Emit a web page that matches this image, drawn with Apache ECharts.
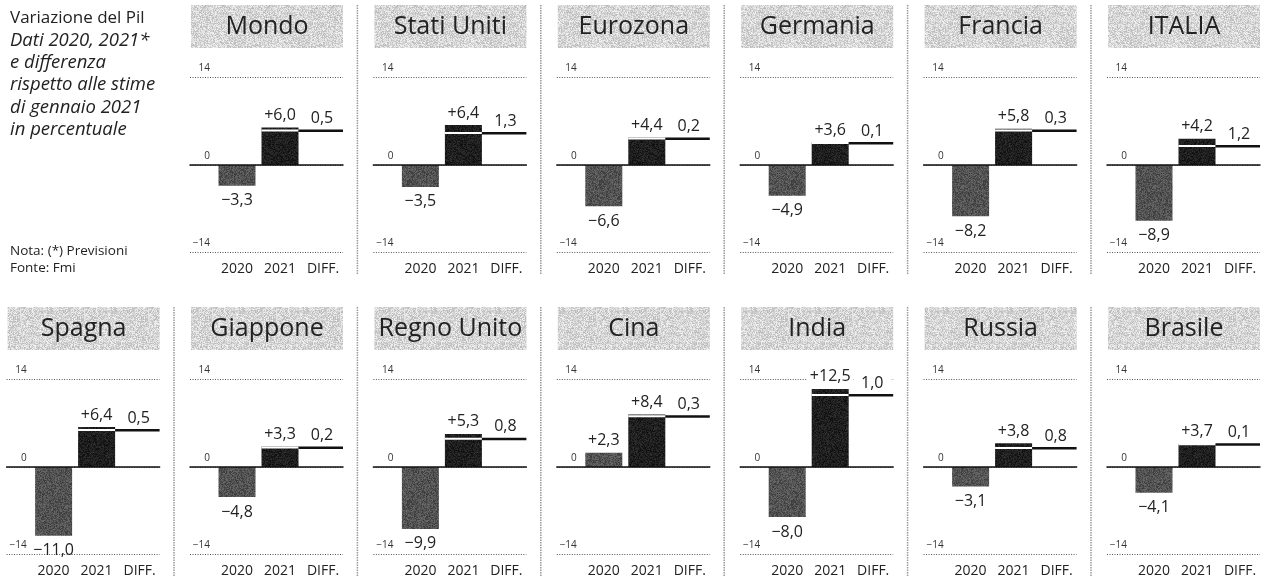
<!DOCTYPE html>
<html>
<head>
<meta charset="utf-8">
<script src="https://cdn.jsdelivr.net/npm/echarts@6/dist/echarts.min.js"></script>
<style>
  html, body { margin: 0; padding: 0; background: #ffffff; }
  #chart { width: 1262px; height: 580px; }
</style>
</head>
<body>
<div id="chart"></div>
<script>
// Variazione del Pil: 2020, previsioni 2021 e revisione rispetto a gennaio 2021 (Fmi)
const paesi = ['Mondo', 'Stati Uniti', 'Eurozona', 'Germania', 'Francia', 'ITALIA',
               'Spagna', 'Giappone', 'Regno Unito', 'Cina', 'India', 'Russia', 'Brasile'];
const pil2020 = [-3.3, -3.5, -6.6, -4.9, -8.2, -8.9, -11.0, -4.8, -9.9, 2.3, -8.0, -3.1, -4.1];
const pil2021 = [6.0, 6.4, 4.4, 3.6, 5.8, 4.2, 6.4, 3.3, 5.3, 8.4, 12.5, 3.8, 3.7];
const diffGennaio = [0.5, 1.3, 0.2, 0.1, 0.3, 1.2, 0.5, 0.2, 0.8, 0.3, 1.0, 0.8, 0.1];
const colonne = ['2020', '2021', 'DIFF.'];
const scalaY = { min: -14, max: 14, passo: 14 };

const titoloRighe = ['Variazione del Pil', 'Dati 2020, 2021*', 'e differenza',
                     'rispetto alle stime', 'di gennaio 2021', 'in percentuale'];
const noteRighe = ['Nota: (*) Previsioni', 'Fonte: Fmi'];

// ---- layout ----
const FONT = '"Open Sans", "Noto Sans", sans-serif';
const PITCH = 183.4;
const PANEL_W = 153;
const PLOT_H = 175;
const BAR_W = 37;
const righe = [
  { primo: 0, quanti: 6, x: 190, titoloTop: 5, top: 77.5, sepTop: 5, sepBottom: 274 },
  { primo: 6, quanti: 7, x: 6.6, titoloTop: 307, top: 379.5, sepTop: 307, sepBottom: 577 }
];

function formatta(v, segno) {
  const s = Math.abs(v).toFixed(1).replace('.', ',');
  if (!segno) return s;
  return (v < 0 ? '\u2212' : '+') + s;
}

function formattaTick(v) {
  return v < 0 ? '\u2212' + Math.abs(v) : String(v);
}

// speckled fills (newsprint-like grain)
function grana(base, spread, seed) {
  const c = document.createElement('canvas');
  c.width = 64; c.height = 64;
  const ctx = c.getContext('2d');
  const img = ctx.createImageData(64, 64);
  let h = seed;
  for (let i = 0; i < 64 * 64; i++) {
    h = (h * 1103515245 + 12345) & 0x7fffffff;
    const n = ((h >> 8) % 1000) / 1000;
    const g = Math.max(0, Math.min(255, base + (n - 0.5) * spread));
    img.data[i * 4] = g; img.data[i * 4 + 1] = g; img.data[i * 4 + 2] = g; img.data[i * 4 + 3] = 255;
  }
  ctx.putImageData(img, 0, 0);
  return c;
}
const tramaTitolo = grana(214, 60, 7);
const trama2020 = grana(82, 50, 11);
const trama2021 = grana(30, 36, 23);

const etichetta = { fontSize: 16, color: '#222', fontFamily: FONT };

const grid = [], xAxis = [], yAxis = [], series = [], graphic = [];

righe.forEach(function (riga) {
  for (let c = 0; c < riga.quanti; c++) {
    const k = riga.primo + c;
    const x0 = riga.x + c * PITCH;
    const gA = grid.length, gB = gA + 1;

    // reference lines grid (dotted ±14, solid zero, tick labels)
    grid.push({ left: x0, top: riga.top, width: PANEL_W, height: PLOT_H });
    // bars grid
    grid.push({ left: x0 + 25.5, top: riga.top, width: 129, height: PLOT_H });

    xAxis.push({
      gridIndex: gA, type: 'category', data: colonne,
      axisLine: { show: true, onZero: true, lineStyle: { color: '#111', width: 1.5 } },
      axisTick: { show: false }, axisLabel: { show: false }, z: 5
    });
    yAxis.push({
      gridIndex: gA, type: 'value', min: scalaY.min, max: scalaY.max, interval: scalaY.passo,
      axisLine: { show: false }, axisTick: { show: false },
      splitLine: { show: true, lineStyle: { color: '#555', width: 1, type: [1, 1.5] } },
      axisLabel: {
        margin: -20, align: 'right', verticalAlign: 'bottom', padding: [0, 0, 4, 0],
        fontSize: 10, color: '#333', fontFamily: FONT, formatter: formattaTick
      }
    });
    xAxis.push({
      gridIndex: gB, type: 'category', data: colonne,
      axisLine: { show: false, onZero: false }, axisTick: { show: false },
      axisLabel: { margin: 10, fontSize: 14, color: '#222', fontFamily: FONT }
    });
    yAxis.push({ gridIndex: gB, type: 'value', min: scalaY.min, max: scalaY.max, show: false });

    const v0 = pil2020[k], v1 = pil2021[k];
    const labelDi = function (v) {
      return v < 0
        ? { show: true, position: 'bottom', distance: 7 }
        : { show: true, position: 'top', distance: 4, backgroundColor: '#fff', padding: [1, 3, 0, 3] };
    };
    series.push({
      type: 'bar', xAxisIndex: gB, yAxisIndex: gB, barWidth: BAR_W, barGap: '-100%',
      itemStyle: { color: { image: trama2020, repeat: 'repeat' } },
      data: [{ value: v0, label: labelDi(v0) }, '-', '-'],
      label: Object.assign({ formatter: function (p) { return formatta(p.value, true); } }, etichetta),
      silent: true, animation: false
    });
    series.push({
      type: 'bar', xAxisIndex: gB, yAxisIndex: gB, barWidth: BAR_W, barGap: '-100%',
      itemStyle: { color: { image: trama2021, repeat: 'repeat' } },
      data: ['-', { value: v1, label: labelDi(v1) }, '-'],
      label: Object.assign({ formatter: function (p) { return formatta(p.value, true); } }, etichetta),
      silent: true, animation: false
    });
    // January estimate marker: white stripe in the 2021 bar, line across the DIFF column
    series.push({
      type: 'custom', xAxisIndex: gB, yAxisIndex: gB, silent: true, animation: false, z: 4,
      data: [[1, v1, diffGennaio[k]]],
      renderItem: function (params, api) {
        const cat = api.value(0), val = api.value(1), d = api.value(2);
        const stima = val - d;
        const pBar = api.coord([cat, stima]);
        const pDiff = api.coord([cat + 1, stima]);
        const banda = api.size([1, 0])[0];
        const y = pBar[1];
        return {
          type: 'group',
          children: [
            { type: 'rect', shape: { x: pBar[0] - BAR_W / 2, y: y - 1.2, width: BAR_W, height: 2 }, style: { fill: '#ffffff' } },
            { type: 'line', shape: { x1: pBar[0] + BAR_W / 2, y1: y, x2: pDiff[0] + banda / 2 - 1.5, y2: y }, style: { stroke: '#111', lineWidth: 2.5 } },
            {
              type: 'text',
              style: {
                text: formatta(d, false), x: pDiff[0], y: y - 4,
                align: 'center', verticalAlign: 'bottom', textAlign: 'center', textVerticalAlign: 'bottom',
                fontSize: 16, fontFamily: FONT, fill: '#222',
                backgroundColor: '#fff', padding: [1, 8, 0, 6]
              }
            }
          ]
        };
      }
    });

    // title box
    graphic.push({
      type: 'rect', silent: true,
      shape: { x: x0 + 1, y: riga.titoloTop, width: PANEL_W - 1, height: 43 },
      style: { fill: { image: tramaTitolo, repeat: 'repeat' } },
      textContent: { style: { text: paesi[k], fontSize: 25, fontFamily: FONT, fill: '#222' } },
      textConfig: { position: 'inside' }
    });
    // dotted separator on the left of every panel except the first one of each row
    if (c > 0) {
      graphic.push({
        type: 'line', silent: true,
        shape: { x1: x0 - 16, y1: riga.sepTop, x2: x0 - 16, y2: riga.sepBottom },
        style: { stroke: '#9a9a9a', lineWidth: 1.5, lineDash: [1.5, 1] }
      });
    }
  }
});

// heading and notes on the left
titoloRighe.forEach(function (t, i) {
  graphic.push({
    type: 'text', silent: true, x: 10, y: 18 + i * 22.4,
    style: {
      text: t, fontSize: i === 0 ? 17 : 18.5, fontFamily: FONT, fill: '#222',
      fontStyle: i === 0 ? 'normal' : 'italic',
      verticalAlign: 'middle', textVerticalAlign: 'middle'
    }
  });
});
noteRighe.forEach(function (t, i) {
  graphic.push({
    type: 'text', silent: true, x: 10, y: 251 + i * 17,
    style: { text: t, fontSize: 13.5, fontFamily: FONT, fill: '#222', verticalAlign: 'middle', textVerticalAlign: 'middle' }
  });
});

const chart = echarts.init(document.getElementById('chart'), null, { renderer: 'canvas' });
chart.setOption({
  backgroundColor: '#ffffff',
  animation: false,
  grid: grid, xAxis: xAxis, yAxis: yAxis, series: series, graphic: graphic
});
</script>
</body>
</html>
